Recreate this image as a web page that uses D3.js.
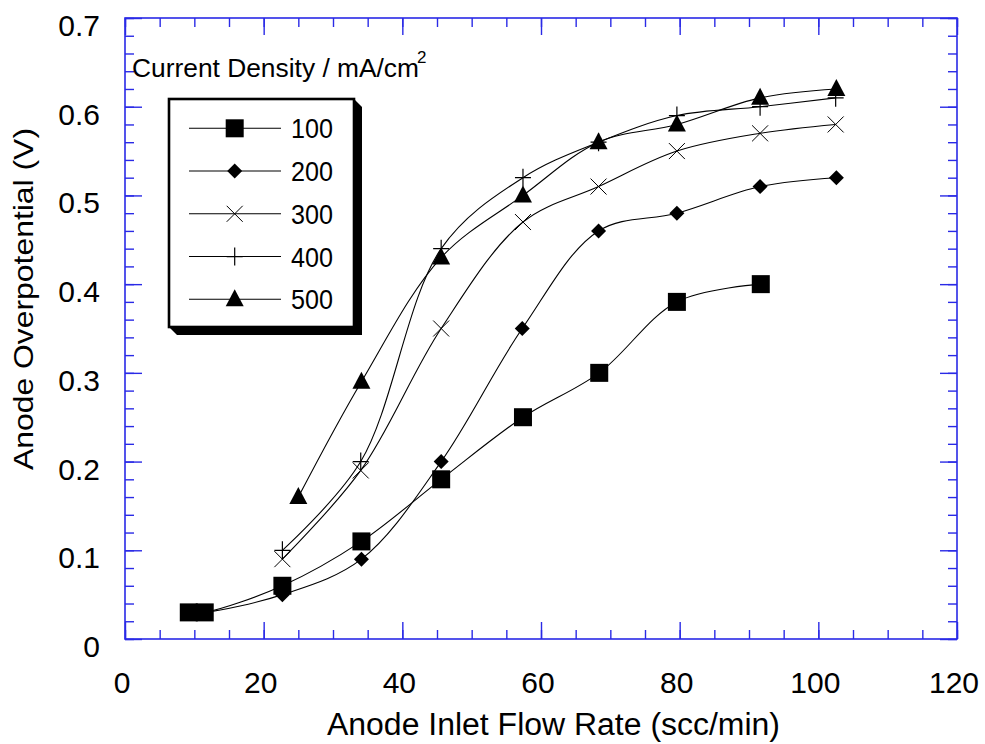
<!DOCTYPE html>
<html>
<head>
<meta charset="utf-8">
<script src="https://cdn.jsdelivr.net/npm/d3@7"></script>
<style>
  html, body { margin: 0; padding: 0; background: #fff; }
  svg { display: block; font-family: "Liberation Sans", Arial, sans-serif; }
</style>
</head>
<body>
<svg id="chart" width="985" height="744"></svg>
<script>
// ---- data ----
const seriesNames = ["100", "200", "300", "400", "500"];
const markerTypes = ["square", "diamond", "cross", "plus", "triangle"];
const s100 = [[9.2,0.03],[11.5,0.03],[22.7,0.06],[34.1,0.11],[45.6,0.18],[57.4,0.25],[68.4,0.30],[79.6,0.38],[91.7,0.40]];
const s200 = [[9.2,0.03],[11.5,0.03],[22.7,0.05],[34.1,0.09],[45.6,0.20],[57.3,0.35],[68.3,0.46],[79.6,0.48],[91.6,0.51],[102.6,0.52]];
const s300 = [[22.7,0.09],[34.0,0.19],[45.6,0.35],[57.4,0.47],[68.3,0.51],[79.6,0.55],[91.6,0.57],[102.5,0.58]];
const s400 = [[22.7,0.10],[34.0,0.20],[45.6,0.44],[57.4,0.52],[68.3,0.56],[79.6,0.59],[91.6,0.60],[102.5,0.61]];
const s500 = [[25.0,0.16],[34.1,0.29],[45.6,0.43],[57.4,0.50],[68.3,0.56],[79.6,0.58],[91.6,0.61],[102.6,0.62]];
const allSeries = [s100, s200, s300, s400, s500];
const xTicks = [0, 20, 40, 60, 80, 100, 120];
const yTicks = [0, 0.1, 0.2, 0.3, 0.4, 0.5, 0.6, 0.7];
const xTitle = "Anode Inlet Flow Rate (scc/min)";
const yTitle = "Anode Overpotential (V)";
const legendTitle = "Current Density / mA/cm";

// ---- layout ----
const L = 125, R = 957, T = 18, B = 639;
const axisColor = "#2a2ae6";
const svg = d3.select("#chart");
const x = d3.scaleLinear().domain([0, 120]).range([L, R]);
const y = d3.scaleLinear().domain([0, 0.7]).range([B, T]);

// frame
svg.append("rect").attr("x", L).attr("y", T).attr("width", R - L).attr("height", B - T)
  .attr("fill", "none").attr("stroke", axisColor).attr("stroke-width", 1.6);

// ticks via d3 axes (inward)
const xMinor = d3.range(0, 121, 5);
const yMinor = d3.range(0, 36).map(i => +(i * 0.02).toFixed(2));
function tickAxes(axisFn, scale, vals, size, transform) {
  const g = svg.append("g").attr("transform", transform)
    .call(axisFn(scale).tickValues(vals).tickSize(size).tickFormat(""));
  g.select(".domain").remove();
  g.selectAll("line").attr("stroke", axisColor).attr("stroke-width", 1.4);
}
// bottom (inward = upward)
tickAxes(d3.axisTop, x, xMinor, 9, `translate(0,${B})`);
tickAxes(d3.axisTop, x, xTicks, 17, `translate(0,${B})`);
// top (inward = downward)
tickAxes(d3.axisBottom, x, xMinor, 9, `translate(0,${T})`);
tickAxes(d3.axisBottom, x, xTicks, 17, `translate(0,${T})`);
// left (inward = rightward)
tickAxes(d3.axisRight, y, yMinor, 9, `translate(${L},0)`);
tickAxes(d3.axisRight, y, yTicks, 17, `translate(${L},0)`);
// right (inward = leftward)
tickAxes(d3.axisLeft, y, yMinor, 9, `translate(${R},0)`);
tickAxes(d3.axisLeft, y, yTicks, 17, `translate(${R},0)`);

// tick labels
svg.append("g").selectAll("text").data(xTicks).join("text")
  .attr("x", d => x(d) - 3).attr("y", 693).attr("text-anchor", "middle")
  .attr("font-size", 30).attr("fill", "#000").text(d => d);
svg.append("g").selectAll("text").data(yTicks).join("text")
  .attr("x", 100).attr("y", d => y(d) + 18).attr("text-anchor", "end")
  .attr("font-size", 30).attr("fill", "#000").text(d => d === 0 ? "0" : d3.format(".1f")(d));

// axis titles
svg.append("text").attr("x", 327).attr("y", 735).attr("font-size", 31)
  .attr("textLength", 453).attr("lengthAdjust", "spacingAndGlyphs").text(xTitle);
svg.append("text").attr("transform", "translate(33,470) rotate(-90)")
  .attr("x", 0).attr("y", 0).attr("font-size", 28)
  .attr("textLength", 342).attr("lengthAdjust", "spacingAndGlyphs").text(yTitle);

// markers
function drawMarker(g, type, cx, cy) {
  if (type === "square") {
    g.append("rect").attr("x", cx - 9).attr("y", cy - 9).attr("width", 18).attr("height", 18).attr("fill", "#000");
  } else if (type === "diamond") {
    g.append("path").attr("d", `M${cx},${cy-7.5}L${cx+7.5},${cy}L${cx},${cy+7.5}L${cx-7.5},${cy}Z`).attr("fill", "#000");
  } else if (type === "cross") {
    g.append("path").attr("d", `M${cx-8},${cy-8}L${cx+8},${cy+8}M${cx-8},${cy+8}L${cx+8},${cy-8}`)
      .attr("stroke", "#000").attr("stroke-width", 1).attr("fill", "none");
  } else if (type === "plus") {
    g.append("path").attr("d", `M${cx-8},${cy}L${cx+8},${cy}M${cx},${cy-9}L${cx},${cy+9}`)
      .attr("stroke", "#000").attr("stroke-width", 1.2).attr("fill", "none");
  } else if (type === "triangle") {
    g.append("path").attr("d", `M${cx},${cy-10}L${cx+9},${cy+7}L${cx-9},${cy+7}Z`).attr("fill", "#000");
  }
}

// lines
const line = d3.line().x(d => x(d[0])).y(d => y(d[1])).curve(d3.curveCatmullRom.alpha(0.5));
const plot = svg.append("g");
allSeries.forEach((s, i) => {
  plot.append("path").attr("d", line(s)).attr("fill", "none").attr("stroke", "#000").attr("stroke-width", 1.1);
});
allSeries.forEach((s, i) => {
  const g = plot.append("g");
  s.forEach(p => drawMarker(g, markerTypes[i], x(p[0]), y(p[1])));
});

// legend title
const lt = svg.append("text").attr("x", 132).attr("y", 77).attr("font-size", 25);
lt.append("tspan").attr("textLength", 287).attr("lengthAdjust", "spacingAndGlyphs").text(legendTitle);
svg.append("text").attr("x", 417).attr("y", 63).attr("font-size", 17).text("2");

// legend box with shadow
const bx = 169, by = 99, bw = 185, bh = 228, sh = 8;
svg.append("path")
  .attr("d", `M${bx+bw},${by}L${bx+bw+sh},${by+sh}L${bx+bw+sh},${by+bh+sh}L${bx+sh},${by+bh+sh}L${bx},${by+bh}Z`)
  .attr("fill", "#000");
svg.append("rect").attr("x", bx).attr("y", by).attr("width", bw).attr("height", bh)
  .attr("fill", "#fff").attr("stroke", "#000").attr("stroke-width", 2.6);

const lg = svg.append("g");
seriesNames.forEach((name, i) => {
  const cy = 128.3 + i * 42.75;
  lg.append("line").attr("x1", 189).attr("x2", 281).attr("y1", cy).attr("y2", cy)
    .attr("stroke", "#000").attr("stroke-width", 1.1);
  drawMarker(lg, markerTypes[i], 234.7, cy);
  lg.append("text").attr("x", 291).attr("y", cy + 10).attr("font-size", 27)
    .attr("textLength", 42).attr("lengthAdjust", "spacingAndGlyphs").text(name);
});
</script>
</body>
</html>
